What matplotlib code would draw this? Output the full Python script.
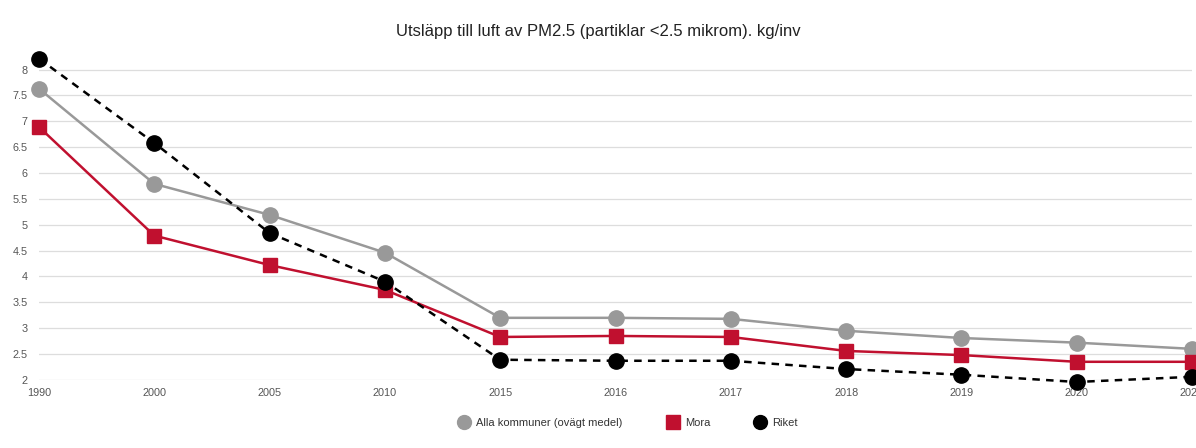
import matplotlib.pyplot as plt
from matplotlib.lines import Line2D

plt.rcParams['font.family'] = ['Liberation Sans', 'DejaVu Sans']

years = ['1990', '2000', '2005', '2010', '2015', '2016', '2017', '2018', '2019', '2020', '2021']
alla = [7.63, 5.79, 5.19, 4.46, 3.20, 3.20, 3.18, 2.95, 2.81, 2.72, 2.60]
mora = [6.89, 4.79, 4.22, 3.74, 2.83, 2.85, 2.83, 2.56, 2.48, 2.35, 2.35]
riket = [8.21, 6.58, 4.84, 3.90, 2.39, 2.37, 2.37, 2.21, 2.10, 1.96, 2.06]
labels = ['Alla kommuner (ovägt medel)', 'Mora', 'Riket']

grey = '#999999'
red = '#c0102f'

fig = plt.figure(figsize=(11.96, 4.48), dpi=100)
ax = fig.add_axes([0.0326, 0.152, 0.9641, 0.739])
x = range(len(years))

ax.plot(x, alla, color=grey, lw=1.8, marker='o', ms=11, zorder=3, clip_on=False)
ax.plot(x, mora, color=red, lw=1.8, marker='s', ms=10.5, zorder=4, clip_on=False)
ax.plot(x, riket, color='black', lw=1.8, ls=(0, (3, 2.5)), marker='o', ms=11, zorder=5, clip_on=False)

ax.set_xlim(0, 10)
ax.set_ylim(2, 8.4)
ax.set_xticks(list(x))
ax.set_xticklabels(years)
ax.set_yticks([2, 2.5, 3, 3.5, 4, 4.5, 5, 5.5, 6, 6.5, 7, 7.5, 8])
ax.set_yticklabels(['2', '2.5', '3', '3.5', '4', '4.5', '5', '5.5', '6', '6.5', '7', '7.5', '8'])
ax.grid(axis='y', color='#dddddd', lw=0.9)
ax.set_axisbelow(True)
for s in ax.spines.values():
    s.set_visible(False)
ax.tick_params(length=0, labelsize=7.8, colors='#555555')
ax.tick_params(axis='x', pad=6)
ax.tick_params(axis='y', pad=8)

fig.text(0.5, 0.92, 'Utsläpp till luft av PM2.5 (partiklar <2.5 mikrom). kg/inv',
         ha='center', fontsize=12, color='#222222')

handles = [
    Line2D([], [], ls='none', marker='o', ms=10, color=grey),
    Line2D([], [], ls='none', marker='s', ms=10, color=red),
    Line2D([], [], ls='none', marker='o', ms=10, color='black'),
]
fig.legend(handles, labels, loc='center', bbox_to_anchor=(0.523, 0.055), ncol=3,
           frameon=False, fontsize=8, handletextpad=0.1, columnspacing=3.5,
           labelcolor='#333333')

fig.savefig('out.png', dpi=100)
